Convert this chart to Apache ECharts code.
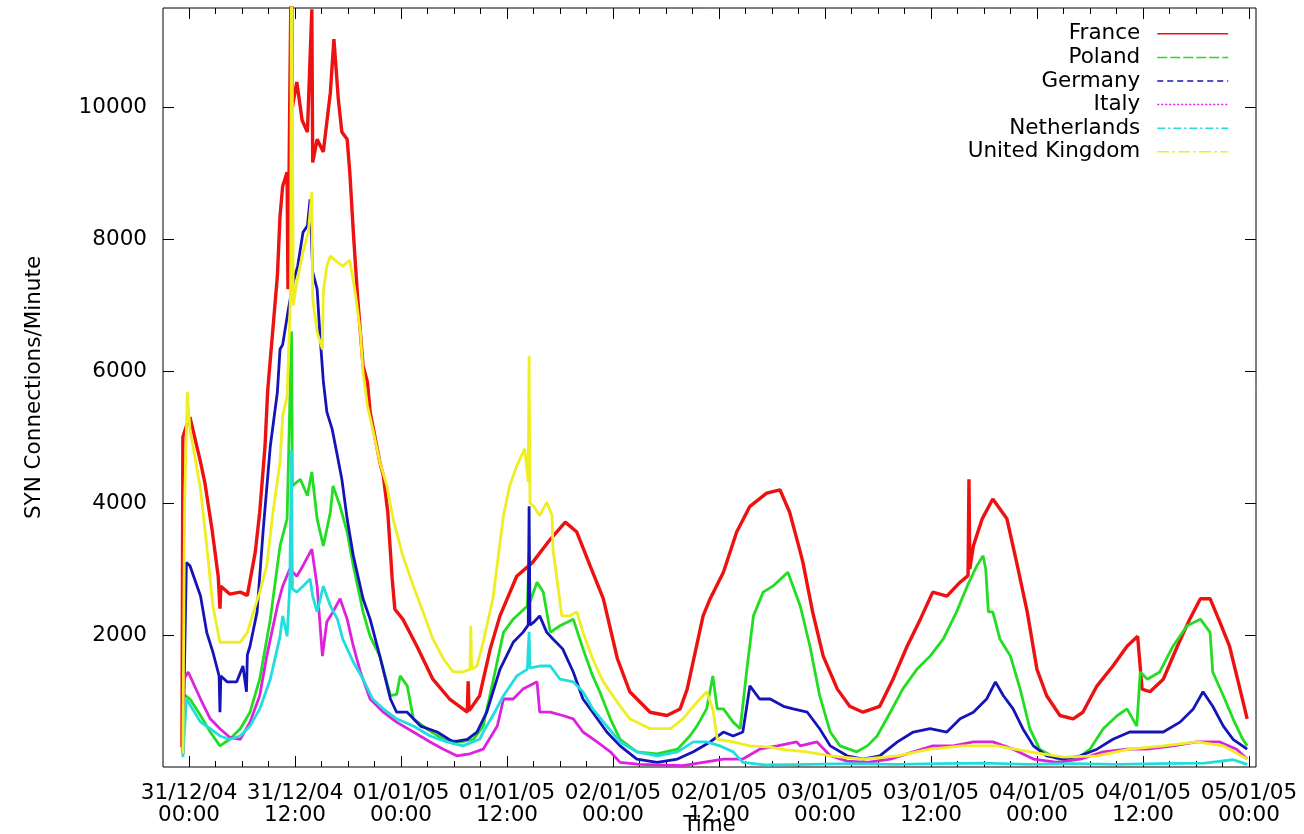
<!DOCTYPE html>
<html>
<head>
<meta charset="utf-8">
<script src="https://cdn.jsdelivr.net/npm/echarts@6/dist/echarts.min.js"></script>
<style>
  html, body { margin: 0; padding: 0; background: #fff; }
  #chart { width: 1304px; height: 834px; }
</style>
</head>
<body>
<div id="chart"></div>
<script>
// hours from 31/12/04 00:00
var xTickHours = [0, 12, 24, 36, 48, 60, 72, 84, 96, 108, 120];
var xTickLabels = [
  '31/12/04\n00:00', '31/12/04\n12:00', '01/01/05\n00:00', '01/01/05\n12:00',
  '02/01/05\n00:00', '02/01/05\n12:00', '03/01/05\n00:00', '03/01/05\n12:00',
  '04/01/05\n00:00', '04/01/05\n12:00', '05/01/05\n00:00'
];
var xMinorHours = [];
for (var t = 3; t <= 120; t += 3) xMinorHours.push(t);
var yTicks = [2000, 4000, 6000, 8000, 10000];

var countries = ['France', 'Poland', 'Germany', 'Italy', 'Netherlands', 'United Kingdom'];

var france = [[-0.8,300],[-0.7,5000],[-0.1,5250],[0.1,5300],[1.3,4620],[1.8,4300],[2.6,3600],[3.3,2890],[3.5,2400],[3.6,2740],[4.6,2620],[5.8,2650],[6.6,2600],[7.5,3260],[8.0,3860],[8.6,4860],[8.9,5700],[10.0,7440],[10.3,8350],[10.6,8800],[11.1,9010],[11.2,7240],[11.4,10070],[11.6,12500],[11.7,10000],[12.2,10380],[12.8,9800],[13.4,9620],[13.9,11480],[14.0,9160],[14.5,9510],[15.2,9320],[16.0,10220],[16.4,11030],[16.9,10120],[17.3,9620],[17.9,9510],[18.2,9010],[18.6,8100],[19.1,7090],[19.7,6080],[20.2,5830],[20.5,5380],[21.6,4620],[22.0,4410],[22.5,3860],[23.0,2850],[23.3,2390],[24.2,2240],[25.8,1830],[27.6,1330],[29.5,1030],[31.0,880],[31.5,830],[31.6,1300],[31.7,850],[32.9,1080],[34.1,1790],[35.2,2290],[37.1,2890],[38.9,3100],[40.9,3450],[42.6,3710],[43.9,3560],[45.4,3050],[46.9,2550],[48.5,1640],[49.9,1140],[52.2,830],[54.1,780],[55.6,880],[56.4,1180],[58.2,2290],[59.0,2550],[60.5,2950],[62.0,3560],[63.5,3950],[65.4,4150],[66.9,4200],[68.0,3860],[69.2,3260],[69.5,3100],[70.6,2350],[71.8,1680],[73.4,1180],[74.8,920],[76.3,830],[78.2,920],[79.7,1330],[81.3,1830],[82.8,2240],[84.2,2650],[85.8,2590],[87.3,2800],[88.2,2900],[88.3,4360],[88.4,3000],[88.8,3350],[89.8,3760],[91.0,4060],[92.6,3760],[93.7,3100],[94.9,2350],[96.0,1480],[97.1,1080],[98.6,780],[100.1,730],[101.2,830],[102.8,1230],[104.6,1530],[106.2,1830],[107.4,1980],[107.9,1180],[108.8,1140],[110.3,1330],[111.9,1830],[113.3,2240],[114.5,2550],[115.6,2550],[116.7,2200],[117.8,1830],[118.9,1230],[119.8,730]];

var poland = [[-0.7,200],[-0.6,1100],[0.1,1030],[1.3,780],[2.4,530],[3.5,320],[4.6,420],[5.8,580],[6.9,830],[8.0,1330],[9.2,2240],[10.3,3350],[11.1,3760],[11.6,6600],[11.7,4260],[12.6,4360],[13.4,4110],[13.9,4470],[14.5,3760],[15.2,3350],[16.0,3860],[16.3,4260],[17.1,3950],[17.9,3560],[18.6,3050],[19.7,2350],[20.5,1980],[21.6,1680],[22.8,1080],[23.5,1100],[23.9,1380],[24.7,1230],[25.4,730],[26.9,580],[28.8,420],[30.7,380],[32.2,420],[33.3,620],[34.4,1290],[35.6,2040],[36.7,2240],[38.3,2440],[38.5,3200],[38.6,2500],[39.4,2800],[40.1,2650],[40.9,2040],[42.0,2140],[43.5,2240],[44.6,1790],[45.7,1380],[46.5,1140],[47.7,730],[48.8,420],[50.7,230],[53.0,200],[55.3,270],[56.7,470],[57.5,620],[58.6,880],[59.3,1380],[59.8,880],[60.5,880],[61.6,680],[62.4,580],[63.2,1530],[63.9,2290],[65.0,2650],[66.1,2740],[67.8,2950],[69.2,2440],[70.3,1830],[71.4,1080],[72.6,530],[73.7,320],[75.6,230],[76.8,320],[77.9,470],[79.4,830],[80.8,1180],[82.4,1480],[83.9,1680],[85.4,1940],[86.9,2350],[88.1,2740],[89.2,3050],[89.9,3200],[90.2,3000],[90.5,2350],[91.0,2350],[91.8,1940],[93.0,1680],[94.1,1180],[95.2,580],[96.3,270],[98.3,120],[100.5,120],[102.0,270],[103.5,580],[105.1,780],[106.2,880],[107.3,620],[107.7,1440],[108.5,1330],[109.9,1440],[111.4,1830],[113.0,2140],[114.5,2240],[115.6,2040],[115.9,1440],[117.1,1080],[118.2,730],[119.3,420],[119.8,320]];

var germany = [[-0.7,200],[-0.3,3100],[0.1,3050],[1.3,2590],[2.0,2040],[2.7,1740],[3.4,1380],[3.5,830],[3.6,1380],[4.3,1290],[5.4,1290],[6.1,1530],[6.5,1140],[6.6,1700],[6.9,1830],[7.7,2350],[8.4,3600],[9.2,4860],[10.0,5680],[10.3,6330],[10.6,6400],[11.2,6900],[11.8,7350],[12.3,7590],[12.9,8100],[13.4,8200],[13.7,8600],[14.0,7500],[14.5,7240],[14.8,6590],[15.2,5850],[15.6,5380],[16.2,5120],[16.8,4710],[17.3,4360],[17.9,3760],[18.6,3200],[19.7,2550],[20.5,2240],[21.6,1680],[22.8,1030],[23.5,830],[24.7,830],[26.2,620],[28.1,530],[29.9,380],[31.5,420],[32.6,530],[33.7,830],[35.2,1480],[36.7,1890],[37.8,2040],[38.4,2150],[38.5,3950],[38.6,2150],[39.0,2190],[39.7,2290],[40.5,2040],[41.2,1940],[42.3,1790],[43.5,1440],[44.6,1030],[45.7,830],[47.3,530],[48.8,320],[50.7,120],[53.0,70],[55.3,120],[57.1,230],[59.0,380],[60.5,530],[61.6,470],[62.7,530],[63.5,1230],[64.6,1030],[65.8,1030],[67.3,920],[68.4,880],[70.0,830],[71.4,580],[72.6,320],[74.5,170],[76.3,120],[78.2,170],[80.2,380],[82.0,530],[83.9,580],[85.8,530],[87.3,730],[88.8,830],[90.3,1030],[91.3,1290],[92.2,1080],[93.3,880],[94.4,580],[95.6,320],[97.1,170],[99.0,120],[100.9,170],[102.8,270],[104.6,420],[106.5,530],[108.5,530],[110.3,530],[112.2,680],[113.7,880],[114.8,1140],[115.9,920],[117.1,620],[118.2,420],[119.8,270]];

var italy = [[-0.7,200],[-0.6,1330],[-0.1,1440],[1.3,1030],[2.4,730],[3.5,580],[4.6,450],[5.8,420],[6.9,680],[8.0,1080],[8.8,1680],[10.0,2440],[10.6,2740],[11.4,3000],[12.2,2890],[12.9,3050],[13.9,3300],[14.5,2740],[15.1,1680],[15.6,2200],[16.3,2350],[17.1,2550],[17.9,2240],[18.6,1830],[19.4,1440],[20.5,1030],[22.0,830],[23.5,680],[25.4,530],[27.3,380],[28.8,270],[30.3,170],[31.8,200],[33.3,270],[34.9,620],[35.6,1030],[36.7,1030],[37.8,1180],[39.4,1290],[39.7,830],[40.9,830],[42.3,780],[43.5,730],[44.6,530],[46.2,380],[47.7,230],[48.8,70],[51.0,40],[55.9,20],[58.2,70],[60.5,120],[62.7,120],[64.6,270],[66.6,320],[68.8,380],[69.2,320],[71.1,380],[72.6,170],[74.5,90],[76.8,70],[79.4,120],[82.0,230],[84.2,320],[86.5,320],[88.8,380],[91.0,380],[93.3,270],[95.6,120],[98.3,70],[100.9,120],[103.5,230],[106.2,270],[108.5,270],[111.4,320],[114.1,380],[116.7,380],[118.6,270],[119.8,120]];

var netherlands = [[-0.7,150],[-0.3,1030],[1.3,680],[2.4,580],[3.5,470],[4.6,420],[5.8,470],[6.9,620],[8.0,880],[9.2,1330],[10.3,1980],[10.6,2290],[11.1,1980],[11.4,2740],[11.6,4800],[11.7,2700],[12.2,2650],[12.9,2740],[13.7,2850],[14.0,2590],[14.5,2350],[15.2,2740],[16.0,2440],[16.8,2240],[17.4,1940],[18.6,1590],[19.7,1330],[20.8,1030],[22.0,880],[23.5,730],[25.4,620],[27.3,470],[29.2,380],[31.0,320],[32.9,420],[33.3,530],[34.4,780],[35.6,1080],[37.1,1380],[38.3,1480],[38.5,2050],[38.6,1500],[39.7,1530],[40.9,1530],[42.0,1330],[43.5,1290],[44.6,1140],[45.7,880],[47.3,620],[48.8,380],[50.7,230],[53.0,170],[55.3,230],[57.1,380],[58.6,380],[60.1,320],[61.6,230],[62.7,70],[65.4,30],[70.0,40],[75.0,50],[80.0,40],[85.0,50],[90.0,60],[95.0,40],[100.0,50],[105.0,40],[110.0,50],[115.0,60],[118.2,110],[119.8,40]];

var unitedKingdom = [[-0.7,200],[-0.5,4000],[-0.2,5680],[0.1,5120],[1.3,4210],[2.0,3350],[2.7,2440],[3.5,1890],[4.6,1890],[5.8,1890],[6.6,2040],[7.3,2350],[8.0,2650],[8.8,3050],[9.5,3860],[10.3,4620],[10.6,5320],[11.1,5620],[11.5,7200],[11.6,12500],[11.7,10200],[11.8,6990],[12.2,7350],[12.9,7800],[13.5,8100],[13.9,8710],[14.0,7090],[14.5,6590],[15.1,6330],[15.2,7200],[15.6,7590],[16.0,7740],[16.8,7650],[17.4,7590],[18.2,7680],[18.8,7200],[19.4,6590],[19.7,5980],[20.2,5470],[20.8,5120],[21.6,4620],[22.4,4260],[23.1,3760],[24.2,3200],[25.4,2740],[26.5,2350],[27.6,1940],[28.8,1640],[29.9,1440],[31.0,1440],[31.8,1480],[31.9,2140],[32.0,1480],[32.6,1530],[33.3,1890],[34.4,2550],[35.6,3810],[36.3,4260],[37.1,4560],[38.0,4820],[38.4,4320],[38.5,6230],[38.6,4000],[39.0,3950],[39.7,3810],[40.5,4010],[41.1,3810],[41.2,3300],[41.7,2800],[42.2,2290],[43.1,2290],[43.9,2350],[44.6,2040],[45.7,1640],[46.9,1290],[48.5,980],[49.9,730],[52.2,580],[54.5,580],[55.9,730],[57.5,980],[58.6,1140],[59.3,880],[59.8,420],[61.6,380],[63.5,320],[65.8,300],[66.9,270],[69.9,230],[72.6,170],[76.3,120],[80.2,170],[83.9,270],[87.6,320],[91.5,320],[95.2,230],[99.0,150],[102.8,170],[106.5,270],[110.3,320],[114.1,380],[117.1,320],[119.8,120]];

var seriesData = [france, poland, germany, italy, netherlands, unitedKingdom];
var colors = ['#ee1111', '#22dd22', '#1414b8', '#dd22dd', '#22dddd', '#eeee22'];
var legendDash = ['solid', [10, 3], [6, 4], [2, 2], [8, 3, 2, 3], [12, 3, 3, 3]];

var font = 'DejaVu Sans';
var chart = echarts.init(document.getElementById('chart'));

function xAxisDef(pos, ticks, len, labels) {
  return {
    type: 'value', position: pos, min: -2.95, max: 120.8,
    axisLine: { show: false, onZero: false },
    splitLine: { show: false },
    axisTick: { show: true, inside: true, length: len, customValues: ticks, lineStyle: { color: '#000', width: 1 } },
    axisLabel: labels ? {
      show: true, customValues: xTickHours, margin: 15,
      fontFamily: font, fontSize: 21.5, lineHeight: 22, color: '#000',
      formatter: function (v) { return xTickLabels[xTickHours.indexOf(v)]; }
    } : { show: false }
  };
}

function yAxisDef(pos, labels) {
  return {
    type: 'value', position: pos, min: 0, max: 11500,
    axisLine: { show: false, onZero: false },
    splitLine: { show: false },
    axisTick: { show: true, inside: true, length: 11, customValues: yTicks, lineStyle: { color: '#000', width: 1 } },
    axisLabel: labels ? {
      show: true, customValues: yTicks, margin: 16,
      fontFamily: font, fontSize: 21.5, color: '#000',
      formatter: function (v) { return String(v); }
    } : { show: false }
  };
}

var xMain = xAxisDef('bottom', xTickHours, 11, true);
xMain.name = 'Time';
xMain.nameLocation = 'middle';
xMain.nameGap = 47;
xMain.nameMoveOverlap = false;
xMain.nameTextStyle = { fontFamily: font, fontSize: 21.5, color: '#000' };

var yMain = yAxisDef('left', true);
yMain.name = 'SYN Connections/Minute';
yMain.nameLocation = 'middle';
yMain.nameGap = 118;
yMain.nameMoveOverlap = false;
yMain.nameTextStyle = { fontFamily: font, fontSize: 21.5, color: '#000' };

var option = {
  animation: false,
  backgroundColor: '#fff',
  grid: {
    left: 163, top: 8, right: 48, bottom: 67,
    outerBoundsMode: 'none',
    containLabel: false,
    show: true, borderColor: '#000', borderWidth: 1, backgroundColor: 'transparent'
  },
  legend: {
    orient: 'vertical',
    right: 70,
    top: 17,
    align: 'right',
    itemWidth: 71,
    itemHeight: 12,
    itemGap: 0,
    textStyle: { fontFamily: font, fontSize: 21.5, lineHeight: 23.6, color: '#000', padding: [0, 12, 0, 0] },
    data: countries.map(function (name, i) {
      return {
        name: name,
        itemStyle: { opacity: 0 },
        lineStyle: { type: legendDash[i], width: 1.5, color: colors[i] }
      };
    })
  },
  xAxis: [
    xMain,
    xAxisDef('bottom', xMinorHours, 6, false),
    xAxisDef('top', xTickHours, 11, false),
    xAxisDef('top', xMinorHours, 6, false)
  ],
  yAxis: [yMain, yAxisDef('right', false)],
  series: countries.map(function (name, i) {
    return {
      name: name,
      type: 'line',
      xAxisIndex: 0,
      yAxisIndex: 0,
      data: seriesData[i],
      symbol: 'none',
      clip: true,
      color: colors[i],
      lineStyle: { width: i === 0 ? 3.4 : 2.8, color: colors[i] }
    };
  })
};

chart.setOption(option);
</script>
</body>
</html>
